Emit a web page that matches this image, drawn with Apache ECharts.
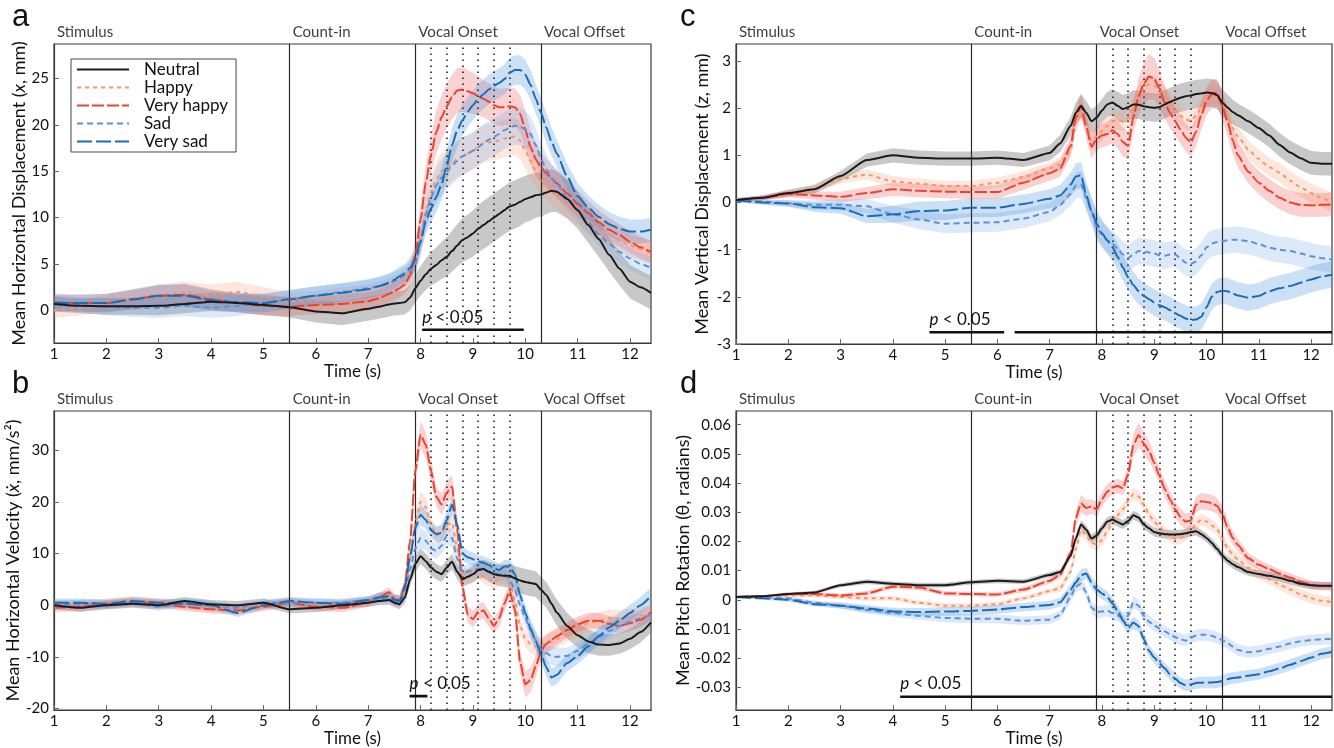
<!DOCTYPE html>
<html><head><meta charset="utf-8">
<script src="https://cdn.jsdelivr.net/npm/echarts@6/dist/echarts.min.js"></script>
<style>html,body{margin:0;padding:0;background:#fff}#c{width:1334px;height:748px}</style>
</head><body><div id="c"></div>
<script>
// ---------------- DATA ----------------
const T = [1,1.5,2,2.5,3,3.5,4,4.5,5,5.5,6,6.5,7,
 7.2,7.4,
 7.5,7.6,7.7,7.8,7.9,8.0,8.1,8.2,8.3,8.4,8.5,8.6,8.7,8.8,8.9,9.0,9.1,9.2,9.3,9.4,9.5,9.6,9.7,9.8,9.9,10.0,10.1,10.2,10.3,10.4,10.5,10.6,
 10.8,11.0,11.2,11.4,11.6,11.8,12.0,12.2,12.4];

const SERIES_NAMES = ['Neutral','Happy','Very happy','Sad','Very sad'];
const EVENTS = ['Stimulus','Count-in','Vocal Onset','Vocal Offset'];
const EVENT_T = [1, 5.5, 7.9, 10.3];
const DOTTED_T = [8.2, 8.5, 8.8, 9.1, 9.4, 9.7];
const X_TICKS = [1,2,3,4,5,6,7,8,9,10,11,12];

// Panel a: horizontal displacement (mm)
const A_NEUTRAL = [0.7,0.5,0.45,0.45,0.5,0.7,0.95,0.8,0.6,0.35,-0.1,-0.3,0.2,
 0.4,0.65,
 0.75,0.8,0.9,1.4,2.4,3.2,3.9,4.5,4.9,5.4,5.8,6.4,7.0,7.6,7.9,8.3,8.8,9.2,9.6,10.0,10.4,10.8,11.2,11.4,11.7,12.0,12.2,12.4,12.5,12.7,12.9,12.8,
 12.0,10.8,9.2,7.7,6.0,4.5,3.1,2.5,1.9];
const A_HAPPY = [0.0,0.3,0.8,1.3,1.7,2.0,1.7,2.0,1.5,1.0,1.1,1.5,1.8,
 2.1,2.5,
 2.8,3.1,3.5,4.0,5.0,7.5,10.8,12.8,14.2,15.0,15.5,15.9,16.3,16.6,16.9,17.2,17.6,18.0,18.1,18.2,18.3,18.5,18.7,18.7,18.3,17.2,16.1,15.0,14.1,13.5,12.9,12.4,
 11.4,10.5,9.6,8.8,8.2,7.6,7.0,6.6,6.2];
const A_VHAPPY = [0.9,0.8,0.8,1.2,1.6,1.7,1.2,0.8,0.5,0.4,0.6,0.7,1.0,
 1.3,1.8,
 2.1,2.4,2.8,3.8,6.0,9.8,13.8,16.8,19.2,20.8,22.0,23.0,23.7,23.8,23.6,23.4,23.1,22.8,22.5,22.1,21.9,21.9,22.0,21.9,21.2,19.5,17.6,16.3,15.4,14.8,14.2,13.7,
 12.6,11.5,10.5,9.5,8.7,8.1,7.4,6.8,6.3];
const A_SAD = [0.8,0.6,0.4,0.3,0.3,0.5,0.3,0.5,0.8,1.2,1.6,2.0,2.4,
 2.6,2.9,
 3.2,3.5,3.8,4.2,5.0,7.3,10.3,12.2,13.5,14.3,15.0,15.6,16.1,16.6,16.9,17.2,17.6,18.0,18.4,18.7,19.0,19.4,19.7,19.9,19.8,19.5,19.0,17.8,16.3,15.2,14.3,13.6,
 12.2,10.8,9.5,8.2,7.2,6.3,5.6,5.0,4.6];
const A_VSAD = [0.8,0.8,0.8,1.2,1.6,1.6,1.1,0.9,0.8,1.2,1.6,1.9,2.3,
 2.6,3.0,
 3.3,3.7,4.0,4.6,5.5,7.5,9.6,11.0,12.2,13.6,15.6,17.8,19.4,20.5,21.4,22.1,22.8,23.3,23.8,24.2,24.5,24.9,25.6,25.9,25.9,25.4,24.3,22.8,21.3,19.7,18.2,16.9,
 14.4,12.3,11.1,10.1,9.3,8.8,8.5,8.5,8.7];
const A_NEUTRAL_BW = [0.8,0.8,0.9,0.9,1.0,1.0,1.0,1.0,1.1,1.1,1.2,1.3,1.3,
 1.3,1.3,
 1.3,1.3,1.3,1.4,1.5, 1.6,1.7,1.8,1.9,2.0, 2.1,2.2,2.3,2.4,2.4, 2.5,2.5,2.6,2.6,2.6, 2.6,2.6,2.6,2.6,2.6, 2.5,2.5,2.4,2.4,2.3, 2.3,2.2,
 2.1,2.0,1.9,1.9,1.8,1.8,1.8,1.8,1.8];
const A_RED_BW = [0.9,0.9,1.0,1.0,1.1,1.2,1.1,1.0,1.0,1.0,1.0,1.0,1.0,
 1.0,1.0,
 1.0,1.0,1.0,1.1,1.3, 1.6,1.9,2.1,2.3,2.4, 2.4,2.4,2.4,2.4,2.3, 2.2,2.1,2.0,2.0,2.0, 2.0,2.0,2.0,2.0,2.0, 2.0,1.9,1.8,1.7,1.6, 1.5,1.5,
 1.4,1.4,1.3,1.3,1.3,1.2,1.2,1.2,1.2];
const A_LIGHT_BW = [0.8,0.8,0.9,1.0,1.1,1.1,1.1,1.1,1.0,1.0,1.0,1.0,1.0,
 1.0,1.0,
 1.0,1.0,1.0,1.1,1.2, 1.4,1.6,1.8,1.9,2.0, 2.0,2.0,2.0,2.0,2.0, 2.0,2.0,2.0,2.0,2.0, 2.0,2.0,2.0,2.0,2.0, 2.0,1.9,1.8,1.7,1.6, 1.5,1.5,
 1.4,1.3,1.3,1.2,1.2,1.2,1.2,1.2,1.2];
const A_BLUE_BW = [0.9,0.9,1.0,1.1,1.2,1.2,1.1,1.0,1.0,1.0,1.0,1.0,1.0,
 1.0,1.0,
 1.0,1.0,1.0,1.1,1.2, 1.3,1.4,1.5,1.6,1.7, 1.8,1.8,1.8,1.7,1.6, 1.6,1.6,1.6,1.6,1.6, 1.6,1.6,1.6,1.6,1.6, 1.6,1.6,1.6,1.6,1.6, 1.5,1.5,
 1.4,1.4,1.3,1.3,1.3,1.3,1.3,1.3,1.3];

// Panel b: horizontal velocity (mm/s)
const B_NEUTRAL = [0.0,-0.5,0.0,0.3,0.0,0.8,0.2,0.0,0.5,-0.8,-0.5,0.0,0.5,
 0.8,1.0,
 0.5,0.2,1.5,5.0,8.0,9.5,8.5,7.3,6.5,6.0,7.3,8.4,6.5,5.0,5.5,6.0,6.8,7.0,6.5,6.0,5.8,5.7,5.7,5.2,4.8,4.5,4.3,4.1,3.0,2.0,0.3,-1.4,
 -4.0,-5.8,-7.0,-7.6,-7.7,-7.4,-6.5,-5.2,-3.3];
const B_HAPPY = [0.3,0.2,0.5,1.0,0.5,0.0,-0.5,-0.5,0.0,0.8,0.0,0.2,0.8,
 1.5,1.8,
 1.0,1.0,3.0,9.0,16.0,20.0,19.0,15.5,13.5,14.0,15.5,16.0,11.0,6.5,5.5,6.0,6.5,5.5,5.0,4.5,5.0,5.5,4.5,1.0,-4.0,-6.5,-7.5,-8.0,-8.0,-7.5,-7.0,-6.5,
 -5.5,-4.5,-3.5,-3.0,-2.5,-2.5,-2.3,-2.0,-1.5];
const B_VHAPPY = [-0.5,-0.3,0.2,0.6,0.3,-0.3,-0.8,-1.0,-0.3,0.5,-0.3,-0.5,0.5,
 1.5,2.5,
 1.2,0.9,4.0,12.5,26.0,33.0,31.0,26.0,21.0,19.5,21.8,23.0,14.5,3.5,-1.8,-2.7,-1.3,-1.0,-2.5,-4.0,-2.5,0.3,2.8,-0.8,-11.0,-15.3,-14.5,-11.8,-8.8,-7.5,-6.7,-6.0,
 -4.8,-3.7,-3.0,-3.0,-3.6,-4.0,-3.5,-2.8,-1.3];
const B_SAD = [0.0,0.3,0.0,0.5,-0.3,0.5,0.0,-0.5,0.5,0.5,0.5,0.5,1.0,
 1.2,1.5,
 1.0,0.8,2.5,7.0,11.0,13.0,12.5,11.0,10.5,11.5,13.5,13.0,9.0,6.5,6.5,6.8,7.0,6.8,6.5,6.2,6.0,6.0,5.0,3.0,0.0,-2.5,-4.8,-6.8,-8.5,-9.3,-9.8,-10.0,
 -9.8,-8.8,-7.5,-6.2,-5.0,-4.0,-3.2,-2.5,-1.8];
const B_VSAD = [0.5,0.5,0.3,0.8,0.5,0.3,0.0,-1.5,0.0,0.8,0.5,0.3,1.0,
 1.5,1.8,
 1.0,0.8,3.5,9.5,15.0,17.5,16.5,14.5,13.8,14.0,16.5,19.5,15.5,10.0,9.3,8.9,8.5,8.2,7.8,7.2,6.8,7.5,7.5,6.0,2.0,-1.5,-4.5,-7.0,-9.5,-12.0,-14.0,-13.5,
 -11.2,-9.8,-8.0,-6.0,-4.3,-3.0,-1.5,0.0,1.8];
const B_NEUTRAL_BW = [0.8,0.8,0.8,0.8,0.8,0.8,0.8,0.8,0.8,0.8,0.8,0.8,0.8,
 0.8,0.9,
 0.9,1.0,1.1,1.3,1.5, 1.5,1.5,1.5,1.5,1.5, 1.5,1.5,1.5,1.5,1.5, 1.6,1.7,1.8,1.9,2.0, 2.1,2.2,2.3,2.4,2.5, 2.5,2.5,2.5,2.5,2.5, 2.5,2.5,
 2.5,2.4,2.3,2.2,2.1,2.0,2.0,2.0,2.0];
const B_RED_BW = [0.8,0.8,0.8,0.8,0.8,0.8,0.8,0.8,0.8,0.8,0.8,0.8,0.8,
 0.9,1.0,
 1.0,1.0,1.3,1.8,2.3, 2.6,2.5,2.2,2.0,2.0, 2.2,2.2,2.0,1.8,1.6, 1.6,1.6,1.6,1.6,1.6, 1.6,1.6,1.6,1.8,2.2, 2.5,2.4,2.2,2.0,1.8, 1.7,1.6,
 1.5,1.5,1.5,1.5,1.5,1.5,1.5,1.5,1.5];
const B_LIGHT_BW = [0.8,0.8,0.8,0.8,0.8,0.8,0.8,0.8,0.8,0.8,0.8,0.8,0.8,
 0.9,1.0,
 1.0,1.0,1.2,1.5,1.8, 2.0,1.8,1.6,1.5,1.6, 1.8,1.8,1.6,1.4,1.3, 1.3,1.3,1.3,1.3,1.3, 1.3,1.3,1.3,1.4,1.5, 1.6,1.7,1.8,1.8,1.8, 1.8,1.8,
 1.6,1.6,1.6,1.6,1.6,1.6,1.6,1.6,1.6];

// Panel c: vertical displacement (mm)
const C_NEUTRAL = [0.05,0.1,0.2,0.28,0.56,0.9,1.0,0.95,0.93,0.93,0.95,0.9,1.05,
 1.25,1.62,
 1.9,2.05,1.9,1.72,1.8,1.95,2.08,2.12,2.05,1.98,2.02,2.08,2.07,2.04,2.02,2.01,2.02,2.08,2.13,2.18,2.22,2.25,2.27,2.3,2.31,2.33,2.32,2.28,2.12,2.02,1.92,1.85,
 1.72,1.58,1.42,1.22,1.06,0.94,0.84,0.82,0.82];
const C_HAPPY = [0.05,0.1,0.18,0.3,0.5,0.59,0.45,0.4,0.35,0.35,0.42,0.54,0.73,
 0.8,1.1,
 1.7,2.0,1.65,1.3,1.4,1.52,1.62,1.72,1.75,1.72,1.8,2.05,2.3,2.45,2.5,2.48,2.42,2.28,2.12,1.98,1.85,1.76,1.73,1.85,2.02,2.2,2.3,2.28,2.1,1.85,1.58,1.4,
 1.12,0.92,0.75,0.63,0.46,0.32,0.2,0.1,0.0];
const C_VHAPPY = [0.05,0.1,0.18,0.15,0.12,0.2,0.28,0.25,0.23,0.22,0.22,0.42,0.62,
 0.72,1.2,
 1.8,2.05,1.6,1.18,1.35,1.42,1.45,1.53,1.45,1.28,1.2,1.8,2.25,2.52,2.67,2.62,2.42,2.12,1.9,1.72,1.55,1.38,1.27,1.5,1.85,2.15,2.3,2.33,2.05,1.72,1.32,1.0,
 0.65,0.42,0.25,0.1,0.0,-0.05,-0.06,-0.05,-0.04];
const C_SAD = [0.05,0.02,-0.02,-0.05,-0.05,-0.08,-0.25,-0.36,-0.45,-0.43,-0.42,-0.34,-0.2,
 -0.05,0.18,
 0.36,0.38,0.1,-0.18,-0.54,-0.68,-0.8,-0.88,-0.98,-1.1,-1.18,-1.1,-1.03,-1.04,-1.06,-1.08,-1.12,-1.13,-1.1,-1.1,-1.18,-1.28,-1.3,-1.25,-1.12,-0.95,-0.87,-0.84,-0.82,-0.8,-0.79,-0.79,
 -0.82,-0.88,-0.96,-1.0,-1.03,-1.08,-1.14,-1.18,-1.21];
const C_VSAD = [0.05,0.0,-0.02,-0.1,-0.12,-0.29,-0.25,-0.18,-0.17,-0.11,-0.11,-0.03,0.08,
 0.15,0.38,
 0.55,0.58,0.15,-0.18,-0.45,-0.65,-0.8,-0.95,-1.15,-1.38,-1.58,-1.75,-1.88,-1.98,-2.05,-2.12,-2.18,-2.22,-2.28,-2.35,-2.4,-2.46,-2.49,-2.48,-2.42,-2.22,-2.0,-1.9,-1.87,-1.88,-1.93,-1.97,
 -2.02,-1.98,-1.88,-1.82,-1.77,-1.7,-1.63,-1.57,-1.53];
const C_NEUTRAL_BW = [0.04,0.05,0.07,0.09,0.11,0.14,0.15,0.15,0.15,0.15,0.15,0.15,0.16,
 0.18,0.2,
 0.22,0.25,0.25,0.25,0.25, 0.25,0.26,0.28,0.3,0.3, 0.3,0.3,0.3,0.3,0.3, 0.3,0.3,0.3,0.3,0.3, 0.3,0.3,0.3,0.3,0.3, 0.3,0.3,0.3,0.28,0.27, 0.26,0.25,
 0.25,0.25,0.25,0.25,0.25,0.25,0.25,0.25,0.25];
const C_RED_BW = [0.04,0.05,0.07,0.09,0.11,0.13,0.14,0.14,0.14,0.14,0.14,0.15,0.16,
 0.18,0.2,
 0.22,0.25,0.25,0.25,0.25, 0.25,0.25,0.28,0.3,0.3, 0.3,0.32,0.38,0.45,0.48, 0.45,0.4,0.35,0.32,0.3, 0.3,0.3,0.3,0.3,0.3, 0.3,0.3,0.3,0.3,0.3, 0.28,0.26,
 0.25,0.25,0.25,0.25,0.25,0.25,0.25,0.25,0.25];
const C_LIGHT_BW = [0.04,0.05,0.07,0.09,0.1,0.11,0.11,0.11,0.11,0.11,0.11,0.12,0.13,
 0.15,0.17,
 0.2,0.2,0.2,0.2,0.2,0.2,0.2,0.2, 0.2,0.2,0.2,0.2,0.2,0.2,0.2,0.2, 0.2,0.2,0.2,0.2,0.2,0.2,0.2,0.2, 0.2,0.2,0.2,0.2,0.2,0.2,0.2,0.2,
 0.2,0.2,0.2,0.2,0.2,0.2,0.2,0.2,0.2];
const C_BLUE_BW = [0.04,0.05,0.07,0.1,0.12,0.15,0.18,0.2,0.2,0.2,0.2,0.2,0.2,
 0.22,0.25,
 0.28,0.28,0.28,0.28,0.28,0.28,0.28,0.28, 0.28,0.28,0.28,0.28,0.28,0.28,0.28,0.28, 0.28,0.28,0.28,0.28,0.28,0.28,0.28,0.28, 0.28,0.28,0.28,0.28,0.28,0.28,0.28,0.28,
 0.28,0.28,0.28,0.28,0.28,0.28,0.28,0.28,0.28];

// Panel d: pitch rotation (radians)
const D_NEUTRAL = [0.0010,0.0012,0.0020,0.0025,0.0050,0.0062,0.0055,0.0050,0.0050,0.0060,0.0065,0.0062,0.0085,
 0.0095,0.0150,
 0.0210,0.0258,0.0240,0.0210,0.0220,0.0245,0.0268,0.0275,0.0266,0.0258,0.0270,0.0290,0.0282,0.0258,0.0245,0.0232,0.0228,0.0225,0.0224,0.0224,0.0225,0.0228,0.0232,0.0235,0.0225,0.0212,0.0195,0.0175,0.0152,0.0135,0.0122,0.0112,
 0.0095,0.0088,0.0082,0.0075,0.0065,0.0055,0.0050,0.0048,0.0048];
const D_HAPPY = [0.0010,0.0010,0.0015,0.0015,0.0010,0.0005,0.0005,-0.0010,-0.0020,-0.0020,-0.0015,0.0005,0.0030,
 0.0040,0.0095,
 0.0175,0.0240,0.0220,0.0195,0.0190,0.0205,0.0235,0.0268,0.0290,0.0310,0.0340,0.0362,0.0355,0.0325,0.0292,0.0268,0.0250,0.0232,0.0218,0.0208,0.0210,0.0222,0.0238,0.0260,0.0275,0.0268,0.0255,0.0242,0.0210,0.0178,0.0155,0.0138,
 0.0110,0.0090,0.0070,0.0052,0.0035,0.0018,0.0005,-0.0003,-0.0008];
const D_VHAPPY = [0.0010,0.0012,0.0020,0.0020,0.0015,0.0022,0.0045,0.0042,0.0022,0.0020,0.0018,0.0035,0.0065,
 0.0085,0.0160,
 0.0280,0.0330,0.0315,0.0320,0.0310,0.0345,0.0370,0.0385,0.0390,0.0382,0.0430,0.0530,0.0565,0.0535,0.0510,0.0470,0.0425,0.0380,0.0345,0.0310,0.0285,0.0268,0.0272,0.0326,0.0338,0.0335,0.0332,0.0322,0.0295,0.0250,0.0212,0.0188,
 0.0142,0.0120,0.0105,0.0090,0.0076,0.0062,0.0050,0.0047,0.0046];
const D_SAD = [0.0010,0.0008,0.0005,-0.0010,-0.0020,-0.0035,-0.0045,-0.0055,-0.0062,-0.0065,-0.0065,-0.0072,-0.0068,
 -0.0052,0.0010,
 0.0045,0.0055,0.0025,-0.0026,-0.0042,-0.0040,-0.0037,-0.0045,-0.0054,-0.0062,-0.0055,-0.0008,-0.0020,-0.0055,-0.0075,-0.0088,-0.0098,-0.0108,-0.0118,-0.0128,-0.0135,-0.0140,-0.0130,-0.0122,-0.0120,-0.0120,-0.0123,-0.0130,-0.0138,-0.0148,-0.0160,-0.0172,
 -0.0180,-0.0176,-0.0168,-0.0160,-0.0150,-0.0142,-0.0138,-0.0135,-0.0134];
const D_VSAD = [0.0010,0.0005,0.0000,-0.0015,-0.0020,-0.0030,-0.0040,-0.0042,-0.0040,-0.0038,-0.0033,-0.0025,-0.0018,
 -0.0008,0.0035,
 0.0060,0.0085,0.0090,0.0060,0.0035,0.0022,0.0010,-0.0012,-0.0038,-0.0070,-0.0098,-0.0078,-0.0090,-0.0135,-0.0175,-0.0198,-0.0218,-0.0235,-0.0255,-0.0270,-0.0285,-0.0293,-0.0290,-0.0285,-0.0284,-0.0283,-0.0283,-0.0282,-0.0278,-0.0272,-0.0268,-0.0266,
 -0.0260,-0.0255,-0.0245,-0.0235,-0.0223,-0.0210,-0.0198,-0.0185,-0.0178];
const D_NEUTRAL_BW = [0.0003,0.0004,0.0005,0.0006,0.0007,0.0008,0.0008,0.0008,0.0008,0.0008,0.0008,0.0008,0.0009,
 0.0010,0.0012,
 0.0015,0.0015,0.0015,0.0015,0.0015,0.0015,0.0015,0.0015, 0.0015,0.0015,0.0015,0.0015,0.0015,0.0015,0.0015,0.0015, 0.0015,0.0015,0.0015,0.0015,0.0015,0.0015,0.0015,0.0015, 0.0015,0.0015,0.0015,0.0015,0.0015,0.0015,0.0015,0.0015,
 0.0013,0.0013,0.0013,0.0013,0.0013,0.0013,0.0013,0.0013,0.0013];
const D_RED_BW = [0.0003,0.0004,0.0005,0.0006,0.0007,0.0008,0.0008,0.0008,0.0008,0.0008,0.0008,0.0009,0.0010,
 0.0012,0.0015,
 0.0025,0.0030,0.0028,0.0025,0.0025, 0.0025,0.0025,0.0025,0.0025,0.0025, 0.0030,0.0038,0.0042,0.0040,0.0035, 0.0030,0.0028,0.0028,0.0028,0.0028, 0.0028,0.0028,0.0028,0.0028,0.0028, 0.0028,0.0028,0.0028,0.0028,0.0026, 0.0024,0.0022,
 0.0018,0.0017,0.0016,0.0015,0.0015,0.0015,0.0015,0.0015,0.0015];
const D_LIGHT_BW = [0.0003,0.0004,0.0005,0.0006,0.0007,0.0008,0.0008,0.0008,0.0008,0.0008,0.0008,0.0008,0.0009,
 0.0012,0.0015,
 0.0020,0.0020,0.0020,0.0020,0.0020,0.0020,0.0020,0.0020, 0.0020,0.0020,0.0020,0.0020,0.0020,0.0020,0.0020,0.0020, 0.0020,0.0020,0.0020,0.0020,0.0020,0.0020,0.0020,0.0020, 0.0020,0.0020,0.0020,0.0020,0.0020,0.0020,0.0020,0.0020,
 0.0018,0.0018,0.0018,0.0018,0.0018,0.0018,0.0018,0.0018,0.0018];
const D_BLUE_BW = [0.0003,0.0005,0.0007,0.0008,0.0010,0.0012,0.0013,0.0014,0.0015,0.0015,0.0015,0.0015,0.0015,
 0.0016,0.0018,
 0.0020,0.0020,0.0020,0.0020,0.0020,0.0020,0.0020,0.0020, 0.0020,0.0020,0.0020,0.0020,0.0020,0.0020,0.0020,0.0020, 0.0020,0.0020,0.0020,0.0020,0.0020,0.0020,0.0020,0.0020, 0.0020,0.0020,0.0020,0.0020,0.0020,0.0020,0.0020,0.0020,
 0.0019,0.0019,0.0019,0.0019,0.0019,0.0019,0.0019,0.0019,0.0019];

// Axis ranges and tick labels (a, b, c, d)
const Y_MIN = [-3.5, -20.3, -3, -0.0378];
const Y_MAX = [28.7, 37.6, 3.36, 0.0647];
const Y_TICKS_A = [0,5,10,15,20,25];
const Y_TICKS_B = [-20,-10,0,10,20,30];
const Y_TICKS_C = [-3,-2,-1,0,1,2,3];
const Y_TICKS_D = [-0.03,-0.02,-0.01,0,0.01,0.02,0.03,0.04,0.05,0.06];

// significance bars (start, end) and their y, text anchor
const SIG_A = [[8.03, 9.97]];            const SIG_A_Y = -2.08;   const SIG_A_TXT = [8.03, -0.75];
const SIG_B = [[7.79, 8.13]];            const SIG_B_Y = -17.6;   const SIG_B_TXT = [7.79, -15.2];
const SIG_C = [[4.70, 6.13],[6.33,12.4]];const SIG_C_Y = -2.75;   const SIG_C_TXT = [4.70, -2.48];
const SIG_D = [[4.14, 12.4]];            const SIG_D_Y = -0.0332; const SIG_D_TXT = [4.14, -0.0286];

// ---------------- STYLE / BUILD ----------------
const FONT = 'Lato';
const GRIDS = [
  {left:54, top:44, width:597, height:299},
  {left:54, top:411, width:597, height:300},
  {left:736, top:44, width:596, height:300},
  {left:736, top:411, width:596, height:300}
];
const LINE_COLORS = ['#1a1a1a','#f4956c','#ea4430','#5d90d8','#1b6cb3'];
const LINE_DASH = ['solid',[4,4],[12,3],[6,4],[15,4]];
const BAND_FILL = ['rgba(110,110,110,0.38)','rgba(245,150,110,0.24)','rgba(235,90,90,0.28)','rgba(120,170,230,0.26)','rgba(70,145,215,0.28)'];

const MEANS = [
  [A_NEUTRAL,A_HAPPY,A_VHAPPY,A_SAD,A_VSAD],
  [B_NEUTRAL,B_HAPPY,B_VHAPPY,B_SAD,B_VSAD],
  [C_NEUTRAL,C_HAPPY,C_VHAPPY,C_SAD,C_VSAD],
  [D_NEUTRAL,D_HAPPY,D_VHAPPY,D_SAD,D_VSAD]
];
const WIDTHS = [
  [A_NEUTRAL_BW,A_LIGHT_BW,A_RED_BW,A_LIGHT_BW,A_BLUE_BW],
  [B_NEUTRAL_BW,B_LIGHT_BW,B_RED_BW,B_LIGHT_BW,B_LIGHT_BW],
  [C_NEUTRAL_BW,C_LIGHT_BW,C_RED_BW,C_BLUE_BW,C_BLUE_BW],
  [D_NEUTRAL_BW,D_LIGHT_BW,D_RED_BW,D_BLUE_BW,D_BLUE_BW]
];
const Y_TICKS = [Y_TICKS_A, Y_TICKS_B, Y_TICKS_C, Y_TICKS_D];
const SIGS = [SIG_A, SIG_B, SIG_C, SIG_D];
const SIG_YS = [SIG_A_Y, SIG_B_Y, SIG_C_Y, SIG_D_Y];
const SIG_TXTS = [SIG_A_TXT, SIG_B_TXT, SIG_C_TXT, SIG_D_TXT];
const Y_NAMES = [
  'Mean Horizontal Displacement ({i|x}, mm)',
  'Mean Horizontal Velocity ({i|ẋ}, mm/s²)',
  'Mean Vertical Displacement ({i|z}, mm)',
  'Mean Pitch Rotation (θ, radians)'
];
const Y_NAME_GAP = [23, 23, 25, 36];
const AXIS_COLOR = '#3a3a3a';

const grid = GRIDS.map(g => Object.assign({show:true, borderColor:AXIS_COLOR, borderWidth:1.2, backgroundColor:'#fff', containLabel:false}, g));

const xAxis = GRIDS.map((g, gi) => ({
  type:'value', gridIndex:gi, min:1, max:12.4,
  name:'Time (s)', nameLocation:'middle', nameGap:18,
  nameTextStyle:{fontFamily:FONT, fontSize:17, color:'#111'},
  axisLine:{show:true, onZero:false, lineStyle:{color:AXIS_COLOR, width:1.2}},
  axisTick:{show:true, inside:true, length:5, lineStyle:{color:'#666'}, customValues:X_TICKS},
  axisLabel:{fontFamily:FONT, fontSize:15, color:'#111', margin:4, customValues:X_TICKS},
  splitLine:{show:false}
}));

const yAxis = GRIDS.map((g, gi) => ({
  type:'value', gridIndex:gi, min:Y_MIN[gi], max:Y_MAX[gi],
  name:Y_NAMES[gi], nameLocation:'middle', nameGap:Y_NAME_GAP[gi], nameRotate:90,
  nameTextStyle:{fontFamily:FONT, fontSize:18, color:'#111', rich:{i:{fontFamily:FONT, fontSize:18, fontStyle:'italic', color:'#111'}}},
  axisLine:{show:true, onZero:false, lineStyle:{color:AXIS_COLOR, width:1.2}},
  axisTick:{show:true, inside:true, length:5, lineStyle:{color:'#666'}, customValues:Y_TICKS[gi]},
  axisLabel:{fontFamily:FONT, fontSize:15, color:'#111', margin:5, customValues:Y_TICKS[gi]},
  splitLine:{show:false}
}));

const series = [];
// bands
for (let gi = 0; gi < 4; gi++) {
  for (let s = 0; s < 5; s++) {
    const m = MEANS[gi][s], w = WIDTHS[gi][s], fill = BAND_FILL[s];
    series.push({
      type:'custom', xAxisIndex:gi, yAxisIndex:gi, silent:true, z:1, clip:true,
      data:[[T[0], m[0]]], encode:{x:0, y:1},
      renderItem: function (params, api) {
        const pts = [];
        for (let i = 0; i < T.length; i++) pts.push(api.coord([T[i], m[i] + w[Math.min(i, w.length-1)]]));
        for (let i = T.length - 1; i >= 0; i--) pts.push(api.coord([T[i], m[i] - w[Math.min(i, w.length-1)]]));
        return {type:'polygon', shape:{points:pts}, style:{fill:fill}};
      }
    });
  }
}
// mean lines
for (let gi = 0; gi < 4; gi++) {
  for (let s = 0; s < 5; s++) {
    const m = MEANS[gi][s];
    const ser = {
      type:'line', name:SERIES_NAMES[s], xAxisIndex:gi, yAxisIndex:gi,
      data:T.map((t, i) => [t, m[i]]),
      showSymbol:false, symbol:'none', smooth:0.2, smoothMonotone:'x', z:5 + (s === 0 ? 1 : 0),
      lineStyle:{color:LINE_COLORS[s], width:2, type:LINE_DASH[s]},
      itemStyle:{color:LINE_COLORS[s]}
    };
    if (s === 0) {
      ser.markLine = {
        silent:true, symbol:['none','none'], label:{show:false}, animation:false,
        data: [1,2,3].map(k => ({xAxis:EVENT_T[k], lineStyle:{type:'solid', color:'#2a2a2a', width:1.2}}))
          .concat(DOTTED_T.map(x => ({xAxis:x, lineStyle:{type:[1.6,4.4], color:'#222', width:1.6}})))
      };
    }
    series.push(ser);
  }
}
// event labels, significance bars, p text
for (let gi = 0; gi < 4; gi++) {
  series.push({
    type:'scatter', xAxisIndex:gi, yAxisIndex:gi, symbolSize:0, silent:true, clip:false, z:8,
    data:EVENT_T.map((t, k) => ({value:[t, Y_MAX[gi]], name:EVENTS[k]})),
    label:{show:true, position:[3,-19], formatter:'{b}', fontFamily:FONT, fontSize:15, color:'#0a0a0a'}
  });
  SIGS[gi].forEach(b => {
    series.push({
      type:'line', xAxisIndex:gi, yAxisIndex:gi, silent:true, z:7, symbol:'none', showSymbol:false,
      data:[[b[0], SIG_YS[gi]], [b[1], SIG_YS[gi]]],
      lineStyle:{color:'#111', width:2.6, type:'solid'}
    });
  });
  series.push({
    type:'scatter', xAxisIndex:gi, yAxisIndex:gi, symbolSize:0, silent:true, clip:false, z:9,
    data:[SIG_TXTS[gi]],
    itemStyle:{opacity:1},
    label:{show:true, position:'right', distance:0, formatter:'{i|p} < 0.05', fontFamily:FONT, fontSize:17, color:'#111', opacity:1,
      rich:{i:{fontFamily:FONT, fontSize:17, fontStyle:'italic', color:'#111'}}}
  });
}

const chart = echarts.init(document.getElementById('c'), null, {renderer:'canvas'});
chart.setOption({
  backgroundColor:'#fff',
  animation:false,
  grid, xAxis, yAxis, series,
  legend:{
    data:SERIES_NAMES, orient:'vertical', left:71, top:59,
    backgroundColor:'#fff', borderColor:'#444', borderWidth:1,
    padding:[2,8,2,5], itemGap:1, itemWidth:52, itemHeight:16,
    itemStyle:{color:'rgba(0,0,0,0)', borderWidth:0, opacity:0},
    textStyle:{fontFamily:FONT, fontSize:17, color:'#111', padding:[0,0,0,10]},
    selectedMode:false
  },
  graphic:[
    {type:'text', left:12, top:2, style:{text:'a', font:'31px "Liberation Sans"', fill:'#111'}},
    {type:'text', left:12, top:369, style:{text:'b', font:'31px "Liberation Sans"', fill:'#111'}},
    {type:'text', left:680, top:2, style:{text:'c', font:'31px "Liberation Sans"', fill:'#111'}},
    {type:'text', left:680, top:369, style:{text:'d', font:'31px "Liberation Sans"', fill:'#111'}}
  ]
});
</script>
</body></html>
